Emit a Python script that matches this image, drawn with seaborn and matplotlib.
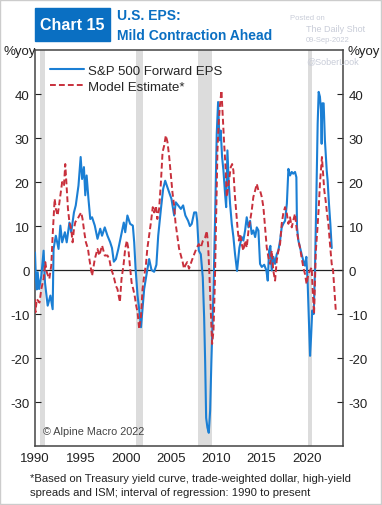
import matplotlib
matplotlib.use("Agg")
import matplotlib.pyplot as plt
import matplotlib.patches as mpatches
import seaborn as sns
import pandas as pd

# ── Data ──────────────────────────────────────────────
eps_years = [
    1990.0, 1990.1, 1990.2, 1990.3, 1990.45, 1990.7, 1990.95, 1991.1, 1991.4, 1991.7,
    1991.95, 1992.05, 1992.3, 1992.6, 1992.8, 1993.0, 1993.3, 1993.5, 1993.8, 1994.0,
    1994.3, 1994.5, 1994.8, 1995.04, 1995.2, 1995.4, 1995.55, 1995.7, 1995.9, 1996.1,
    1996.3, 1996.6, 1996.9, 1997.2, 1997.4, 1997.7, 1998.0, 1998.3, 1998.5, 1998.7,
    1998.93, 1999.2, 1999.5, 1999.8, 1999.96, 2000.2, 2000.5, 2000.8, 2000.95, 2001.1,
    2001.32, 2001.5, 2001.7, 2001.87, 2002.05, 2002.35, 2002.6, 2002.86, 2003.15, 2003.4,
    2003.6, 2003.9, 2004.15, 2004.37, 2004.55, 2004.8, 2005.06, 2005.36, 2005.54, 2005.8,
    2006.1, 2006.35, 2006.6, 2006.9, 2007.1, 2007.3, 2007.57, 2007.79, 2007.9, 2008.08,
    2008.3, 2008.52, 2008.67, 2008.78, 2008.89, 2009.03, 2009.18, 2009.33, 2009.47, 2009.7,
    2009.88, 2010.06, 2010.21, 2010.36, 2010.5, 2010.65, 2010.8, 2010.98, 2011.1, 2011.24,
    2011.39, 2011.53, 2011.72, 2011.9, 2012.08, 2012.3, 2012.56, 2012.82, 2013.0, 2013.19,
    2013.37, 2013.56, 2013.74, 2013.92, 2014.1, 2014.3, 2014.48, 2014.66, 2014.84, 2015.03,
    2015.3, 2015.54, 2015.69, 2015.84, 2015.98, 2016.13, 2016.31, 2016.5, 2016.68, 2016.86,
    2017.05, 2017.23, 2017.4, 2017.6, 2017.8, 2017.97, 2018.15, 2018.34, 2018.5, 2018.7,
    2018.85, 2018.92, 2019.07, 2019.25, 2019.43, 2019.62, 2019.8, 2019.95, 2020.1, 2020.25,
    2020.36, 2020.47, 2020.6, 2020.76, 2020.9, 2021.05, 2021.2, 2021.31, 2021.45, 2021.56,
    2021.64, 2021.71, 2021.86, 2022.0, 2022.2, 2022.3, 2022.45, 2022.6, 2022.75,
]
eps_values = [
    4.0, -2.0, -4.4, -0.5, -4.3, -1.3, 4.4, -2.8, -8.1, -5.8,
    -8.9, 4.8, 7.8, 4.8, 10.1, 6.3, 8.6, 6.3, 10.8, 8.6,
    13.1, 14.7, 19.2, 25.7, 20.7, 23.4, 17.0, 21.5, 16.2, 11.6,
    12.0, 10.1, 7.1, 9.4, 7.8, 9.7, 7.8, 6.3, 5.0, 1.9,
    2.5, 4.8, 7.8, 10.8, 8.6, 12.4, 10.5, 10.1, 6.3, 0.4,
    -5.8, -8.9, -13.0, -8.9, -4.3, -0.5, 2.5, 0.0, -0.4, 1.2,
    7.8, 13.9, 18.5, 20.3, 19.2, 17.7, 16.2, 12.4, 15.4, 14.7,
    13.9, 14.7, 12.4, 11.2, 10.0, 10.5, 13.1, 13.1, 11.2, 4.4,
    3.6, -1.7, -10.8, -20.7, -33.6, -35.8, -37.0, -32.0, -20.7, -4.7,
    12.0, 31.0, 38.2, 29.5, 31.7, 25.7, 22.6, 17.3, 14.3, 27.2,
    19.6, 15.1, 10.5, 7.5, 3.6, -0.2, 5.1, 7.5, 6.7, 9.0,
    12.0, 9.7, 11.2, 8.2, 9.0, 7.5, 9.7, 9.0, 1.4, 0.7,
    1.2, -0.1, -2.4, 4.4, 5.5, -0.1, 3.0, 1.4, 3.6, 4.4,
    6.7, 9.7, 10.5, 11.2, 15.1, 23.0, 21.5, 22.3, 21.9, 22.3,
    21.1, 9.7, 6.7, 5.1, 3.6, 2.1, 1.0, 3.0, -3.2, -12.3,
    -19.5, -15.3, -9.2, -10.0, -0.1, 15.9, 33.3, 40.5, 39.4, 36.4,
    28.7, 37.9, 37.9, 29.5, 22.6, 20.3, 15.0, 10.5, 5.0,
]

model_years = [
    1990.0, 1990.05, 1990.2, 1990.5, 1990.7, 1990.95, 1991.14, 1991.3, 1991.58, 1991.8,
    1991.95, 1992.17, 1992.3, 1992.5, 1992.8, 1993.0, 1993.2, 1993.34, 1993.5, 1993.64,
    1993.8, 1994.0, 1994.15, 1994.3, 1994.45, 1994.7, 1994.9, 1995.1, 1995.25, 1995.44,
    1995.62, 1995.85, 1996.0, 1996.3, 1996.6, 1996.9, 1997.1, 1997.4, 1997.7, 1998.0,
    1998.2, 1998.4, 1998.67, 1998.93, 1999.1, 1999.37, 1999.55, 1999.77, 1999.96, 2000.14,
    2000.3, 2000.47, 2000.66, 2000.84, 2001.0, 2001.17, 2001.32, 2001.5, 2001.7, 2001.87,
    2002.05, 2002.24, 2002.4, 2002.6, 2002.8, 2003.0, 2003.15, 2003.35, 2003.5, 2003.7,
    2003.9, 2004.08, 2004.26, 2004.44, 2004.62, 2004.8, 2005.0, 2005.17, 2005.36, 2005.5,
    2005.7, 2005.9, 2006.1, 2006.3, 2006.45, 2006.6, 2006.8, 2007.0, 2007.3, 2007.57,
    2007.86, 2008.08, 2008.3, 2008.52, 2008.78, 2008.96, 2009.1, 2009.25, 2009.4, 2009.55,
    2009.7, 2009.85, 2010.0, 2010.14, 2010.29, 2010.43, 2010.58, 2010.73, 2010.88, 2011.03,
    2011.17, 2011.32, 2011.47, 2011.61, 2011.76, 2011.9, 2012.05, 2012.2, 2012.35, 2012.5,
    2012.64, 2012.82, 2013.0, 2013.19, 2013.37, 2013.56, 2013.74, 2013.92, 2014.1, 2014.3,
    2014.48, 2014.66, 2014.84, 2015.03, 2015.21, 2015.4, 2015.58, 2015.77, 2015.95, 2016.13,
    2016.3, 2016.5, 2016.68, 2016.86, 2017.05, 2017.23, 2017.4, 2017.6, 2017.8, 2017.97,
    2018.15, 2018.34, 2018.5, 2018.7, 2018.9, 2019.07, 2019.25, 2019.43, 2019.62, 2019.8,
    2019.98, 2020.17, 2020.36, 2020.54, 2020.65, 2020.8, 2020.9, 2021.0, 2021.16, 2021.3,
    2021.45, 2021.56, 2021.67, 2021.78, 2021.93, 2022.08, 2022.2, 2022.38, 2022.56, 2022.75,
    2022.9, 2023.05, 2023.2,
]
model_values = [
    -6.6, -9.6, -6.6, -7.4, -4.3, -2.0, 1.8, -0.5, -2.0, 1.1,
    7.9, 16.2, 13.9, 12.4, 17.0, 20.0, 19.3, 24.1, 18.5, 13.9,
    10.9, 9.3, 6.3, 9.3, 10.9, 11.6, 12.4, 13.1, 11.6, 8.6,
    6.3, 4.8, 2.5, -1.3, 2.5, 4.8, 3.3, 5.6, 3.3, 3.3,
    2.5, 0.3, -1.3, -3.6, -4.3, -7.3, -2.0, 1.1, 4.9, 6.7,
    4.9, 1.1, -2.8, -4.3, -5.8, -8.1, -9.6, -13.4, -10.4, -4.3,
    -1.3, 1.1, 4.9, 7.9, 10.9, 14.3, 13.1, 14.6, 11.6, 13.9,
    20.0, 26.8, 28.3, 30.6, 29.1, 26.0, 21.5, 17.7, 14.6, 10.9,
    7.9, 4.9, 3.3, 1.8, 0.3, 1.1, 1.8, 0.3, 2.1, 3.6,
    5.1, 5.9, 5.1, 6.6, 7.4, 8.9, 5.9, -0.9, -9.2, -16.8,
    -13.8, -3.2, 12.0, 27.2, 34.0, 37.8, 40.8, 34.8, 28.7, 23.4,
    16.6, 18.9, 21.1, 23.4, 24.1, 22.6, 17.3, 13.5, 9.7, 6.7,
    8.2, 5.9, 4.4, 6.7, 5.1, 8.9, 11.2, 13.5, 16.6, 18.1,
    19.6, 18.1, 18.1, 16.6, 14.3, 9.7, 5.1, 2.8, 1.4, 4.4,
    -0.1, -2.4, 2.1, 4.4, 5.9, 10.5, 12.8, 14.3, 12.8, 10.5,
    12.0, 9.7, 11.2, 12.8, 9.0, 6.7, 5.1, 2.8, 0.6, -0.9,
    -3.2, -0.9, -0.1, 0.6, -4.7, -10.0, -3.2, 4.4, 9.0, 13.5,
    19.6, 22.6, 25.7, 22.6, 18.1, 15.8, 13.5, 10.5, 5.9, 1.4,
    -0.1, -4.7, -9.2,
]

recession_starts = [1990.55, 2001.2, 2007.95, 2020.1]
recession_ends = [1991.15, 2001.9, 2009.55, 2020.6]

y_ticks = [-30, -20, -10, 0, 10, 20, 30, 40]
x_ticks = [1990, 1995, 2000, 2005, 2010, 2015, 2020]

BLUE = "#1b7fd4"
RED = "#c8303c"
TITLE_BLUE = "#0a6fc2"

sns.set_style("white")
plt.rcParams["font.family"] = ["Liberation Sans", "DejaVu Sans"]
plt.rcParams["axes.unicode_minus"] = False

eps_df = pd.DataFrame({"year": eps_years, "value": eps_values})
model_df = pd.DataFrame({"year": model_years, "value": model_values})

fig = plt.figure(figsize=(3.82, 5.06), dpi=100)
ax = fig.add_axes([0.0916, 0.1166, 0.8064, 0.7824])

for s, e in zip(recession_starts, recession_ends):
    ax.axvspan(s, e, color="#dcdcdc", lw=0, zorder=0)

ax.axhline(0, color="#222222", lw=0.9, zorder=1)

sns.lineplot(data=eps_df, x="year", y="value", ax=ax, color=BLUE, lw=1.5,
             sort=False, estimator=None, label="S&P 500 Forward EPS", zorder=3)
sns.lineplot(data=model_df, x="year", y="value", ax=ax, color=RED, lw=1.4,
             sort=False, estimator=None, label="Model Estimate*", zorder=4,
             linestyle=(0, (3, 1.6)))

ax.set_xlim(1990, 2024)
ax.set_ylim(-40, 50)
ax.set_xticks(x_ticks)
ax.set_yticks(y_ticks)
ax.set_xlabel("")
ax.set_ylabel("")
ax.tick_params(axis="both", direction="in", length=4, width=0.8, labelsize=9.5,
               colors="#222222", pad=4)
ax.tick_params(axis="y", right=True, labelright=True, left=True, labelleft=True)
for sp in ax.spines.values():
    sp.set_color("#444444")
    sp.set_linewidth(1.1)

leg = ax.legend(loc="upper left", frameon=False, fontsize=9.5, handlelength=2.6,
                borderaxespad=0.6, labelspacing=0.3, handletextpad=0.3,
                borderpad=0.5)

# ── Titles and notes ──────────────────────────────────
fig.patches.append(mpatches.Rectangle((35 / 382, 1 - 42 / 506), 75 / 382, 33 / 506,
                                      transform=fig.transFigure, color=TITLE_BLUE))
fig.text(72 / 382, 1 - 26 / 506, "Chart 15", color="white", fontsize=11.5,
         fontweight="bold", ha="center", va="center")
fig.text(117 / 382, 1 - 16 / 506, "U.S. EPS:", color=TITLE_BLUE, fontsize=10,
         fontweight="bold", ha="left", va="center")
fig.text(117 / 382, 1 - 36 / 506, "Mild Contraction Ahead", color=TITLE_BLUE,
         fontsize=10, fontweight="bold", ha="left", va="center")

fig.text(290 / 382, 1 - 18 / 506, "Posted on", color="#c8ccd8", fontsize=5.5,
         ha="left", va="center")
fig.text(306 / 382, 1 - 29 / 506, "The Daily Shot", color="#c8ccd8", fontsize=6.5,
         ha="left", va="center")
fig.text(306 / 382, 1 - 41 / 506, "09-Sep-2022", color="#c8ccd8", fontsize=5.5,
         ha="left", va="center")
fig.text(306 / 382, 1 - 62 / 506, "@SoberLook", color="#c8ccd8", fontsize=6.5,
         ha="left", va="center")

fig.text(4 / 382, 1 - 52 / 506, "%yoy", color="#222222", fontsize=9.5,
         ha="left", va="center")
fig.text(347 / 382, 1 - 52 / 506, "%yoy", color="#222222", fontsize=9.5,
         ha="left", va="center")

ax.text(0.025, 0.025, "\u00a9 Alpine Macro 2022", transform=ax.transAxes,
        color="#444444", fontsize=7.8, ha="left", va="bottom")

fig.text(30 / 382, 1 - 479 / 506,
         "*Based on Treasury yield curve, trade-weighted dollar, high-yield",
         color="#222222", fontsize=8.1, ha="left", va="center")
fig.text(30 / 382, 1 - 493 / 506,
         "spreads and ISM; interval of regression: 1990 to present",
         color="#222222", fontsize=8.1, ha="left", va="center")

fig.patches.append(mpatches.Rectangle((0.001, 0.001), 0.997, 0.997,
                                      transform=fig.transFigure, fill=False,
                                      edgecolor="#cccccc", lw=1))

fig.savefig("out.png", dpi=100)
plt.close(fig)
